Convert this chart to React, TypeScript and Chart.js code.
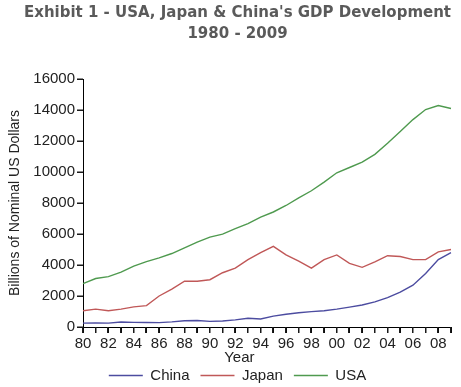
import React, { useEffect, useRef } from "react";
import { Chart, registerables } from "chart.js";

Chart.register(...registerables);

const yearLabels = [
  "80", "81", "82", "83", "84", "85", "86", "87", "88", "89",
  "90", "91", "92", "93", "94", "95", "96", "97", "98", "99",
  "00", "01", "02", "03", "04", "05", "06", "07", "08", "09",
];

const chinaGdp = [
  250, 260, 250, 320, 300, 290, 280, 330, 400, 420,
  360, 390, 460, 560, 520, 700, 820, 920, 990, 1050,
  1150, 1280, 1420, 1620, 1900, 2250, 2700, 3450, 4350, 4800,
];

const japanGdp = [
  1050, 1150, 1050, 1150, 1300, 1380, 2000, 2450, 2950, 2950,
  3050, 3500, 3800, 4350, 4800, 5200, 4650, 4250, 3800, 4350,
  4650, 4100, 3850, 4200, 4600, 4550, 4350, 4350, 4850, 5000,
];

const usaGdp = [
  2800, 3130, 3250, 3540, 3930, 4220, 4460, 4740, 5100, 5480,
  5800, 5990, 6340, 6670, 7090, 7420, 7840, 8330, 8790, 9350,
  9950, 10290, 10640, 11140, 11850, 12620, 13380, 14030, 14290, 14100,
];

const yTicks = [0, 2000, 4000, 6000, 8000, 10000, 12000, 14000, 16000];

const titleLines = ["Exhibit 1 - USA, Japan & China's GDP Development", "1980 - 2009"];
const yAxisTitle = "Billions of Nominal US Dollars";
const xAxisTitle = "Year";

const axisExtrasPlugin = {
  id: "axisExtras",
  afterDraw(chart: any) {
    const { ctx, chartArea } = chart;
    const xs = chart.scales.x;
    const ys = chart.scales.y;
    ctx.save();
    ctx.fillStyle = "#1a1a1a";
    for (let i = 0; i < yearLabels.length; i++) {
      const px = Math.round(xs.getPixelForValue(i));
      ctx.fillRect(px - 1, chartArea.bottom, 1.5, 6);
    }
    yTicks.forEach((v) => {
      const py = Math.round(ys.getPixelForValue(v));
      ctx.fillRect(chartArea.left - 6, py - 0.5, 6, 1.5);
    });
    ctx.font = "15px 'Liberation Sans', Arial, sans-serif";
    ctx.fillStyle = "#222";
    ctx.textAlign = "center";
    ctx.textBaseline = "middle";
    ctx.fillText(xAxisTitle, chartArea.left + chartArea.width * 0.425, chartArea.bottom + 31);
    ctx.translate(15, (chartArea.top + chartArea.bottom) / 2);
    ctx.rotate(-Math.PI / 2);
    ctx.font = "14px 'Liberation Sans', Arial, sans-serif";
    ctx.fillText(yAxisTitle, 0, 0);
    ctx.restore();
  },
};

export default function App() {
  const ref = useRef<HTMLCanvasElement | null>(null);

  useEffect(() => {
    if (!ref.current) return;
    const chart = new Chart(ref.current, {
      type: "line",
      data: {
        labels: yearLabels,
        datasets: [
          { label: "China", data: chinaGdp, borderColor: "#4c4ca0", backgroundColor: "#4c4ca0", borderWidth: 1.4, pointRadius: 0, tension: 0 },
          { label: "Japan", data: japanGdp, borderColor: "#c05858", backgroundColor: "#c05858", borderWidth: 1.4, pointRadius: 0, tension: 0 },
          { label: "USA", data: usaGdp, borderColor: "#4f9a4f", backgroundColor: "#4f9a4f", borderWidth: 1.4, pointRadius: 0, tension: 0 },
        ],
      },
      options: {
        animation: false,
        responsive: false,
        maintainAspectRatio: false,
        layout: { padding: { left: 24, right: 10, top: 0, bottom: -6 } },
        plugins: {
          title: {
            display: true,
            text: titleLines,
            color: "#5a5a5a",
            font: { family: "'DejaVu Sans', Verdana, sans-serif", size: 15, weight: "bold", lineHeight: 1.4 },
            padding: { top: 3, bottom: 34 },
          },
          legend: {
            position: "bottom",
            labels: {
              usePointStyle: true,
              pointStyle: "line",
              pointStyleWidth: 34,
              color: "#222",
              font: { family: "'Liberation Sans', Arial, sans-serif", size: 15 },
              padding: 11,
            },
          },
          tooltip: { enabled: false },
        },
        scales: {
          x: {
            type: "category",
            offset: false,
            grid: { display: true, drawOnChartArea: false, drawTicks: true, tickLength: 6, color: "#000", tickColor: "#000", tickWidth: 1 },
            border: { display: true, color: "#000", width: 1 },
            ticks: {
              autoSkip: false,
              maxRotation: 0,
              color: "#222",
              padding: 2,
              font: { family: "'Liberation Sans', Arial, sans-serif", size: 15 },
              callback: (_v: any, i: number) => (i % 2 === 0 ? yearLabels[i] : ""),
            },
            title: { display: false },
            afterFit: (s: any) => { s.height = s.height + 2; },
          },
          y: {
            min: 0,
            max: 16000,
            afterBuildTicks: (s: any) => { s.ticks = yTicks.map((v) => ({ value: v })); },
            grid: { display: true, drawOnChartArea: false, drawTicks: true, tickLength: 6, color: "#000", tickColor: "#000", tickWidth: 1 },
            border: { display: true, color: "#000", width: 1 },
            ticks: {
              color: "#222",
              padding: 2,
              font: { family: "'Liberation Sans', Arial, sans-serif", size: 15 },
              callback: (v: any) => String(v),
            },
            title: { display: false },
            afterFit: (s: any) => { s.width = 59; },
          },
        },
      },
      plugins: [axisExtrasPlugin],
    } as any);
    return () => chart.destroy();
  }, []);

  return (
    <div style={{ position: "fixed", left: 0, top: 0, width: 461, height: 387, background: "#fff" }}>
      <canvas ref={ref} width={461} height={387} style={{ width: 461, height: 387, display: "block" }} />
    </div>
  );
}
